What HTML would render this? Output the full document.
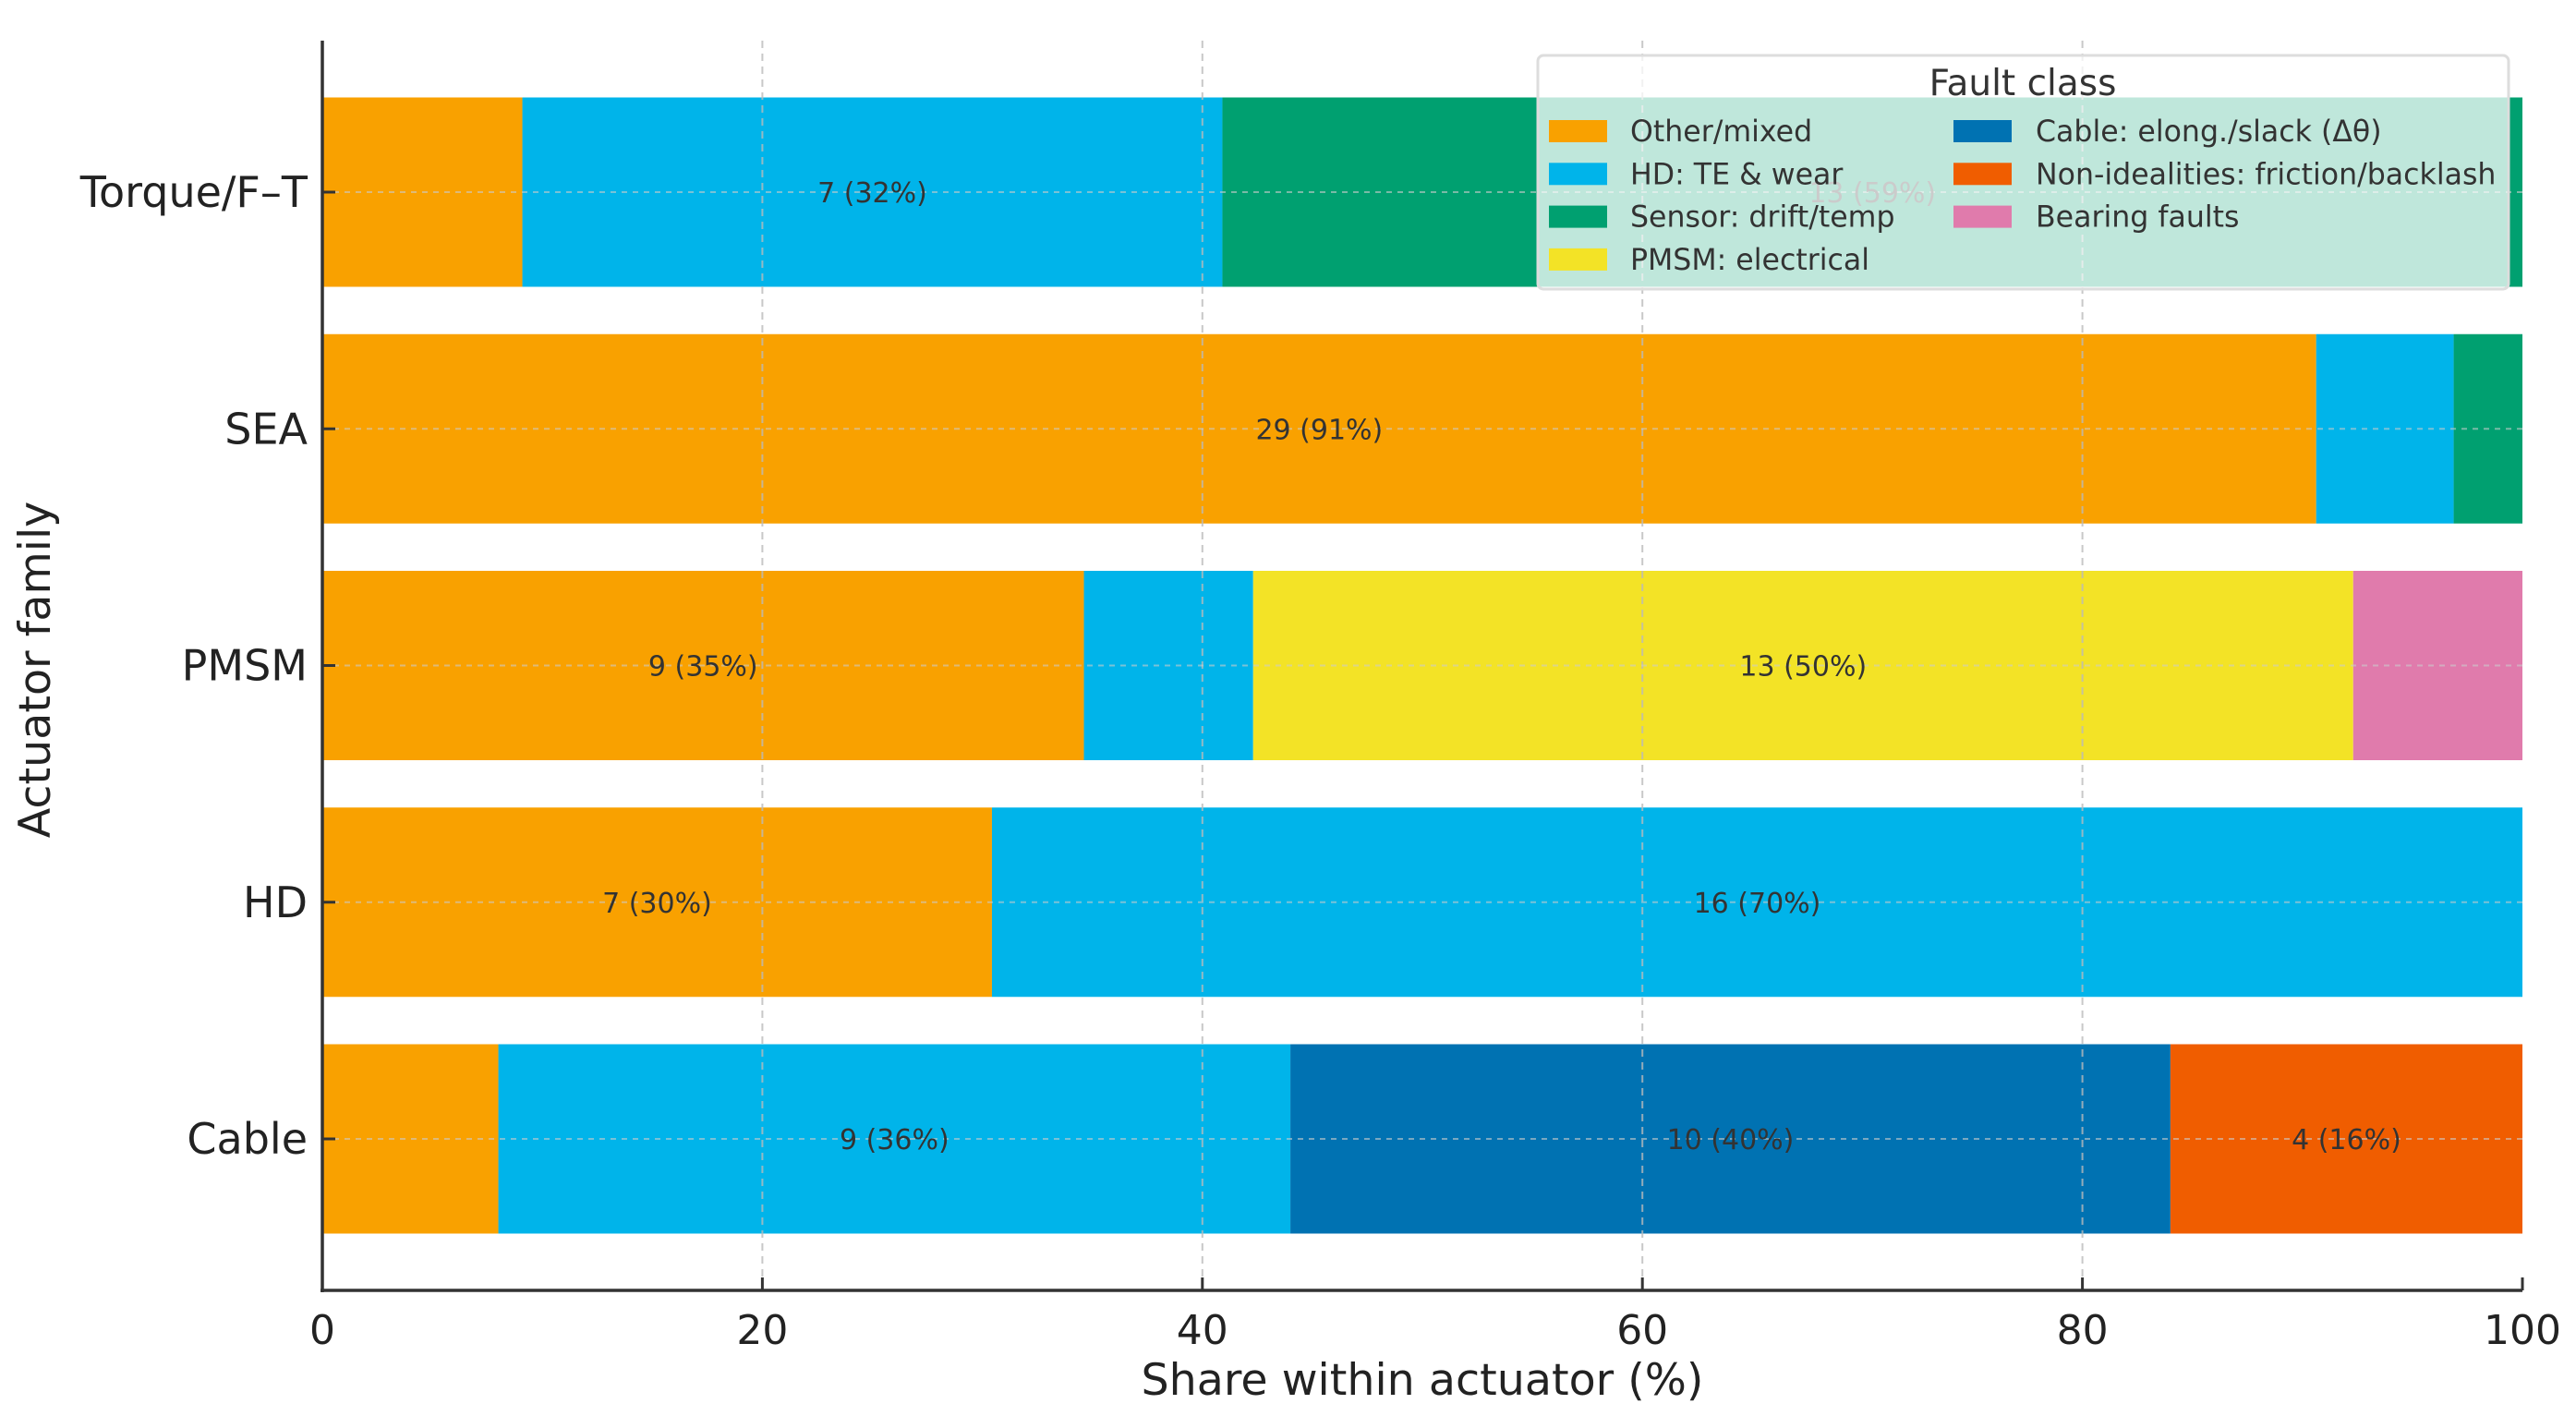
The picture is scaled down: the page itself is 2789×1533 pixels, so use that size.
<!DOCTYPE html>
<html><head><meta charset="utf-8"><style>
html,body{margin:0;padding:0;background:#fff;}
svg{display:block;font-family:"DejaVu Sans","Liberation Sans",sans-serif;}
</style></head><body>
<svg id="chart" width="2789" height="1533" viewBox="0 0 2789 1533" xmlns="http://www.w3.org/2000/svg">
<g id="bars"></g>
<g id="grid"></g>
<g id="labels"></g>
<g id="axes"></g>
<g id="legend"></g>
</svg>
<script>
const categories = ["Torque/F–T","SEA","PMSM","HD","Cable"];
const seriesNames = ["Other/mixed","HD: TE & wear","Sensor: drift/temp","PMSM: electrical","Cable: elong./slack (Δθ)","Non-idealities: friction/backlash","Bearing faults"];
const otherMixed = [2,29,9,7,2];
const hdWear = [7,2,2,16,9];
const sensorDrift = [13,1,0,0,0];
const pmsmElectrical = [0,0,13,0,0];
const cableSlack = [0,0,0,0,10];
const nonIdeal = [0,0,0,0,4];
const bearing = [0,0,2,0,0];
const xTicks = [0,20,40,60,80,100];
const colors = ["#F9A100","#00B4EA","#00A070","#F3E326","#0072B2","#F05D00","#E07BAC"];

const NS="http://www.w3.org/2000/svg";
const X0=349,X1=2731,Y0=44,Y1=1397;
const nCat=categories.length, pad=0.64;
function xs(v){return X0+(X1-X0)*v/100;}
function ys(i){const range=(nCat-1)+2*pad; return Y0+(Y1-Y0)*(i+pad)/range;}
const bandH=(Y1-Y0)/((nCat-1)+2*pad)*0.8;
function mk(tag,attrs,parent){const e=document.createElementNS(NS,tag);for(const k in attrs)e.setAttribute(k,attrs[k]);parent.appendChild(e);return e;}
const series=[otherMixed,hdWear,sensorDrift,pmsmElectrical,cableSlack,nonIdeal,bearing];
const gB=document.getElementById('bars'),gL=document.getElementById('labels'),gG=document.getElementById('grid'),gA=document.getElementById('axes'),gLeg=document.getElementById('legend');
for(let c=0;c<nCat;c++){
  let tot=0;series.forEach(s=>tot+=s[c]);
  let acc=0;const cy=ys(c);
  series.forEach((s,si)=>{
    const v=s[c];if(!v)return;
    const p0=acc/tot*100,p1=(acc+v)/tot*100;acc+=v;
    const r=mk('rect',{x:xs(p0),y:cy-bandH/2,width:xs(p1)-xs(p0),height:bandH,fill:colors[si]},gB);
    
    
    const pct=v/tot*100;
    if(pct>=15){
      const t=mk('text',{x:(xs(p0)+xs(p1))/2,y:cy+11,'text-anchor':'middle','font-size':30,fill:'#333'},gL);
      t.textContent=v+' ('+Math.round(pct)+'%)';
      
      
    }
  });
}
xTicks.forEach(v=>{ if(v>0&&v<100) mk('line',{x1:xs(v),x2:xs(v),y1:Y0,y2:Y1,stroke:'#bbb','stroke-width':2,'stroke-dasharray':'8,6',opacity:0.8},gG);});
categories.forEach((c,i)=>mk('line',{x1:X0,x2:X1,y1:ys(i),y2:ys(i),stroke:'#ccc','stroke-width':2,'stroke-dasharray':'6,6',opacity:0.6},gG));
mk('line',{x1:X0,x2:X0,y1:Y0,y2:Y1+2,stroke:'#333','stroke-width':3.5},gA);
mk('line',{x1:X0-2,x2:X1,y1:Y1,y2:Y1,stroke:'#333','stroke-width':3.5},gA);
xTicks.forEach(v=>{
  mk('line',{x1:xs(v),x2:xs(v),y1:Y1,y2:Y1-14,stroke:'#333','stroke-width':3},gA);
  const t=mk('text',{x:xs(v),y:Y1+58,'text-anchor':'middle','font-size':44,fill:'#222'},gA);
  t.textContent=v;
  
  
});
categories.forEach((c,i)=>{
  mk('line',{x1:X0,x2:X0+14,y1:ys(i),y2:ys(i),stroke:'#333','stroke-width':3},gA);
  const t=mk('text',{x:333,y:ys(i)+16,'text-anchor':'end','font-size':46,fill:'#222'},gA);
  t.textContent=c;
  
  
});
const xt=mk('text',{x:(X0+X1)/2,y:1510,'text-anchor':'middle','font-size':47.5,fill:'#222'},gA);
xt.textContent='Share within actuator (%)';


const yt=mk('text',{x:0,y:0,'text-anchor':'middle','font-size':47.5,fill:'#222',transform:'translate(54,725) rotate(-90)'},gA);
yt.textContent='Actuator family';


mk('rect',{x:1665,y:60,width:1051,height:253,rx:6,fill:'#fff','fill-opacity':0.75,stroke:'#ddd','stroke-width':3},gLeg);
const lt=mk('text',{x:2190,y:103,'text-anchor':'middle','font-size':39,fill:'#333'},gLeg);
lt.textContent='Fault class';


seriesNames.forEach((n,i)=>{
  const col=i<4?0:1,row=i<4?i:i-4;
  const sx=col?2115:1677, ty=142+row*46.3;
  const g=mk('g',{},gLeg);
  
  
  mk('rect',{x:sx,y:ty-12,width:63,height:24,fill:colors[i]},g);
  const t=mk('text',{x:sx+(col?89:88),y:ty+11,'font-size':31.6,fill:'#333'},g);
  t.textContent=n;
});
</script>
</body></html>
